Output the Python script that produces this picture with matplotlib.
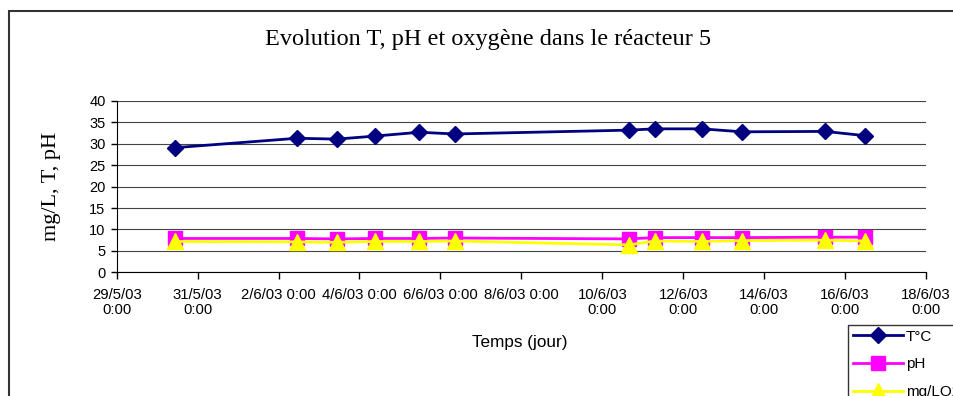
import matplotlib
matplotlib.use("Agg")
from matplotlib import pyplot as plt
from matplotlib.patches import Rectangle
from datetime import datetime

dates = [datetime(2003, 5, 30, 10, 30), datetime(2003, 6, 2, 11, 0), datetime(2003, 6, 3, 10, 30),
         datetime(2003, 6, 4, 9, 0), datetime(2003, 6, 5, 11, 30), datetime(2003, 6, 6, 8, 30),
         datetime(2003, 6, 10, 16, 0), datetime(2003, 6, 11, 7, 0), datetime(2003, 6, 12, 11, 0),
         datetime(2003, 6, 13, 11, 0), datetime(2003, 6, 15, 12, 0), datetime(2003, 6, 16, 12, 0)]
temperature = [29.1, 31.3, 31.1, 31.8, 32.7, 32.3, 33.2, 33.5, 33.5, 32.8, 32.9, 31.9]
ph = [7.9, 7.9, 7.8, 7.9, 7.9, 8.0, 7.8, 8.1, 8.1, 8.1, 8.2, 8.2]
oxygene = [7.2, 7.1, 7.0, 7.2, 7.2, 7.3, 6.4, 7.3, 7.2, 7.4, 7.5, 7.3]

tick_dates = [datetime(2003, 5, 29), datetime(2003, 5, 31), datetime(2003, 6, 2), datetime(2003, 6, 4),
              datetime(2003, 6, 6), datetime(2003, 6, 8), datetime(2003, 6, 10), datetime(2003, 6, 12),
              datetime(2003, 6, 14), datetime(2003, 6, 16), datetime(2003, 6, 18)]
tick_labels = ["29/5/03\n0:00", "31/5/03\n0:00", "2/6/03 0:00", "4/6/03 0:00", "6/6/03 0:00",
               "8/6/03 0:00", "10/6/03\n0:00", "12/6/03\n0:00", "14/6/03\n0:00", "16/6/03\n0:00",
               "18/6/03\n0:00"]

fig = plt.figure(figsize=(9.54, 3.96), dpi=100)
ax = fig.add_axes([116.7 / 954, 1 - 272.3 / 396, (926 - 116.7) / 954, (272.3 - 101) / 396])

# cadre exterieur
fig.patches.append(Rectangle((9 / 954, -0.1), 1.2, 1 - 11 / 396 + 0.1, transform=fig.transFigure,
                             fill=False, edgecolor="#333333", linewidth=1.5))

ax.plot(dates, temperature, color="#000080", linewidth=2, marker="D", markersize=8, label="T°C", zorder=5)
ax.plot(dates, ph, color="#FF00FF", linewidth=2, marker="s", markersize=10.5, label="pH", zorder=3)
ax.plot(dates, oxygene, color="#FFFF00", linewidth=2, marker="^", markersize=11, label="mg/LO2", zorder=4)

ax.set_xlim(tick_dates[0], tick_dates[-1])
ax.set_ylim(0, 40)
ax.set_yticks(range(0, 41, 5))
ax.set_xticks(tick_dates)
ax.set_xticklabels(tick_labels, fontsize=10.7, family="Liberation Sans", linespacing=1.15)
for lab in ax.get_yticklabels():
    lab.set_fontsize(10.5)
    lab.set_family("Liberation Sans")
ax.tick_params(axis="x", length=5, width=1, pad=6)
ax.tick_params(axis="y", length=4, width=1, pad=4)
ax.grid(axis="y", color="#444444", linewidth=0.8)
ax.set_axisbelow(True)
ax.spines["top"].set_visible(False)
ax.spines["right"].set_visible(False)

ax.set_ylabel("mg/L, T, pH", fontsize=16, family="Liberation Serif", labelpad=20)
fig.text(520 / 954, 1 - 343 / 396, "Temps (jour)", fontsize=12.3, family="Liberation Sans",
         ha="center", va="center")
fig.text(488 / 954, 1 - 40 / 396, "Evolution T, pH et oxygène dans le réacteur 5", fontsize=17.5,
         family="Liberation Serif", ha="center", va="center")

leg = fig.legend(loc="upper left", bbox_to_anchor=(848 / 954, 1 - 325 / 396),
                 prop={"family": "Liberation Sans", "size": 11}, frameon=True, fancybox=False,
                 edgecolor="black", handlelength=3.3, labelspacing=0.9, borderpad=0.3,
                 handletextpad=0.2, borderaxespad=0)
leg.get_frame().set_linewidth(1)

fig.savefig("out.png", dpi=100)
